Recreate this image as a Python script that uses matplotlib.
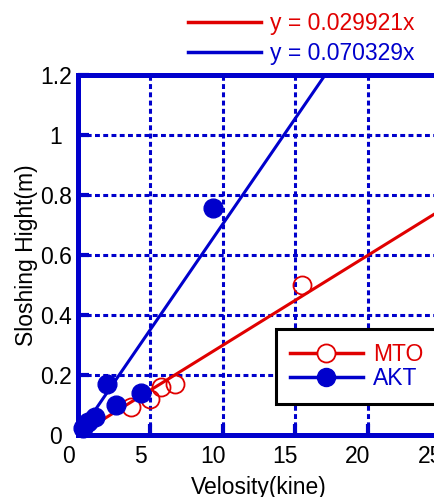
import numpy as np
import matplotlib
matplotlib.use("Agg")
from matplotlib import pyplot as plt
from matplotlib.lines import Line2D
from matplotlib.transforms import ScaledTranslation

plt.rcParams["font.family"] = ["Liberation Sans", "DejaVu Sans"]

# observed points (velocity in kine, sloshing height in m)
mto_vel = [3.64, 4.97, 5.71, 6.72, 15.5]
mto_height = [0.094, 0.12, 0.16, 0.17, 0.50]
akt_vel = [0.37, 0.71, 1.17, 2.02, 2.62, 4.33, 9.3]
akt_height = [0.022, 0.045, 0.06, 0.17, 0.10, 0.14, 0.757]

# trendlines through the origin
mto_slope = 0.029921
akt_slope = 0.070329

x_ticks = [0, 5, 10, 15, 20, 25]
y_ticks = [0, 0.2, 0.4, 0.6, 0.8, 1.0, 1.2]
y_tick_labels = ["0", "0.2", "0.4", "0.6", "0.8", "1", "1.2"]

RED = "#e00000"
BLUE = "#0000cc"
FS = 16.5

fig = plt.figure(figsize=(4.35, 4.97), dpi=100)
W, H = 435, 497
ax = fig.add_axes([78 / W, (H - 435) / H, (440 - 78) / W, (435 - 75) / H])

xs = np.array([0, 25])
ax.plot(xs, mto_slope * xs, color=RED, lw=2.2, zorder=2)
ax.plot(xs, akt_slope * xs, color=BLUE, lw=2.2, zorder=2)
ax.plot(mto_vel, mto_height, "o", ms=13, mfc="none", mec=RED, mew=1.3,
        zorder=3, clip_on=False)
ax.plot(akt_vel, akt_height, "o", ms=13.5, color=BLUE, zorder=4,
        clip_on=False)

ax.set_xlim(0, 25)
ax.set_ylim(0, 1.2)
ax.set_xticks(x_ticks)
ax.set_yticks(y_ticks)
ax.set_yticklabels(y_tick_labels)

ax.grid(True, color=BLUE, lw=2.2, linestyle=(0, (1.6, 1.1)), zorder=1)
for s in ax.spines.values():
    s.set_color(BLUE)
    s.set_linewidth(3.6)
ax.tick_params(direction="in", length=8, width=3, color=BLUE,
               labelsize=FS, labelcolor="black")
ax.tick_params(axis="y", pad=16)
ax.tick_params(axis="x", pad=7)
for lab in ax.get_yticklabels():
    lab.set_horizontalalignment("center")
shift = ScaledTranslation(-7 / 72, 0, fig.dpi_scale_trans)
for lab in ax.get_xticklabels():
    lab.set_transform(lab.get_transform() + shift)

ax.set_xlabel("Velosity(kine)", fontsize=FS, labelpad=6)
ax.set_ylabel("Sloshing Hight(m)", fontsize=FS, labelpad=1)

# trendline legend above the plot
trend_handles = [Line2D([], [], color=RED, lw=2.5),
                 Line2D([], [], color=BLUE, lw=2.5)]
leg1 = fig.legend(trend_handles, ["y = 0.029921x", "y = 0.070329x"],
                  loc="upper left", bbox_to_anchor=(188 / W, 1 - 12 / H),
                  frameon=False, fontsize=FS, handlelength=3.2,
                  handletextpad=0.4, labelspacing=0.3, borderpad=0,
                  borderaxespad=0, labelcolor="linecolor")

# series legend inside the plot
series_handles = [
    Line2D([], [], color=RED, lw=2.5, marker="o", ms=13, mfc="white",
           mec=RED, mew=1.3),
    Line2D([], [], color=BLUE, lw=2.5, marker="o", ms=13),
]
leg2 = ax.legend(series_handles, ["MTO", "AKT"], loc="upper left",
                 bbox_to_anchor=(276 / W, 1 - 329 / H),
                 bbox_transform=fig.transFigure, fontsize=FS,
                 handlelength=3.2, handletextpad=0.45, labelspacing=0.05,
                 borderpad=0.6, borderaxespad=0, fancybox=False,
                 framealpha=1, edgecolor="black", labelcolor="linecolor")
leg2.get_frame().set_linewidth(2.2)
leg2.set_zorder(5)

fig.savefig("out.png", dpi=100)
